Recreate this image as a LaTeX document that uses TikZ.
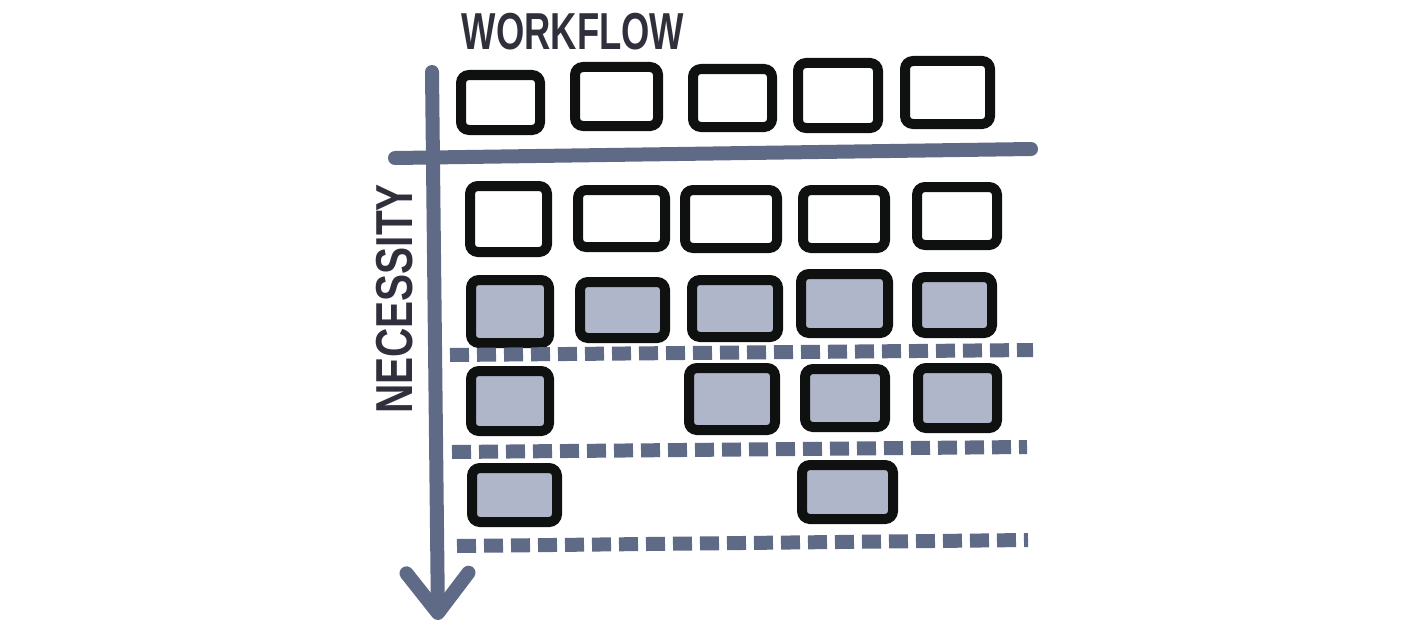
\documentclass[tikz,border=0pt]{standalone}
\usepackage{fontspec}
\setmainfont{Liberation Sans}
\usepackage{tikz}
\usetikzlibrary{arrows.meta, positioning}
\definecolor{axisblue}{HTML}{5F6A86}
\definecolor{cardfill}{HTML}{B0B6C9}
\definecolor{inkblack}{HTML}{0F1110}
\definecolor{inkgray}{HTML}{30303C}
\tikzstyle{card} = [draw=inkblack, line width=10pt, rounded corners=8pt, rectangle, inner sep=0pt, fill=white]
\tikzstyle{donecard} = [card, fill=cardfill]
\tikzstyle{axis} = [draw=axisblue, line width=14pt, line cap=round]
\tikzstyle{cutline} = [draw=axisblue, line width=14pt, dash pattern=on 19pt off 8pt]
\tikzstyle{label} = [text=inkgray, font=\bfseries\fontsize{52}{52}\selectfont, inner sep=0pt]

\begin{document}
\begin{tikzpicture}[x=1pt, y=-1pt, >=latex]
    \useasboundingbox (0,0) rectangle (1413,642);
    % axis labels
    \node [label] (workflow) at (573,31.5) {\scalebox{0.70}[1]{WORKFLOW}};
    \node [label, rotate=90] (necessity) at (395,299) {\scalebox{0.78}[1]{NECESSITY}};
    % axes
    \coordinate (ytop) at (432,72);
    \coordinate (ybot) at (438,620);
    \coordinate (xleft) at (395,158);
    \coordinate (xright) at (1031,149);
    \draw [axis] (xleft) -- (xright);
    \draw [axis, -{Straight Barb[length=40pt, width=62pt, round]}] (ytop) -- (ybot);
    % workflow steps
    \node [card, minimum width=79pt, minimum height=55pt] (step1) at (500.5,102.5) {};
    \node [card, minimum width=83pt, minimum height=59pt] (step2) at (616.5,96.5) {};
    \node [card, minimum width=79pt, minimum height=58pt] (step3) at (732.5,98) {};
    \node [card, minimum width=80pt, minimum height=65pt] (step4) at (838,95.5) {};
    \node [card, minimum width=85pt, minimum height=63pt] (step5) at (947.5,92.5) {};
    % first row of stories
    \node [card, minimum width=77pt, minimum height=66pt] (s11) at (508.5,219) {};
    \node [card, minimum width=87pt, minimum height=57pt] (s12) at (621.5,218.5) {};
    \node [card, minimum width=92pt, minimum height=58pt] (s13) at (731,219) {};
    \node [card, minimum width=82pt, minimum height=58pt] (s14) at (844,219) {};
    \node [card, minimum width=80pt, minimum height=58pt] (s15) at (957,216) {};
    % second row
    \node [donecard, minimum width=78pt, minimum height=63pt] (s21) at (510,311.5) {};
    \node [donecard, minimum width=85pt, minimum height=56pt] (s22) at (622.5,310) {};
    \node [donecard, minimum width=86pt, minimum height=57pt] (s23) at (735,308.5) {};
    \node [donecard, minimum width=87pt, minimum height=59pt] (s24) at (844.5,303.5) {};
    \node [donecard, minimum width=75pt, minimum height=56pt] (s25) at (954.5,305) {};
    % third row
    \node [donecard, minimum width=78pt, minimum height=60pt] (s31) at (510,401) {};
    \node [donecard, minimum width=86pt, minimum height=62pt] (s33) at (732,399) {};
    \node [donecard, minimum width=80pt, minimum height=58pt] (s34) at (845,398) {};
    \node [donecard, minimum width=79pt, minimum height=60pt] (s35) at (957.5,398) {};
    % fourth row
    \node [donecard, minimum width=85pt, minimum height=54pt] (s41) at (514.5,495) {};
    \node [donecard, minimum width=91pt, minimum height=54pt] (s44) at (847.5,492) {};
    % release cuts
    \coordinate (cut1l) at (450,355);
    \coordinate (cut1r) at (1033,350);
    \coordinate (cut2l) at (452,452);
    \coordinate (cut2r) at (1027,447);
    \coordinate (cut3l) at (457,546);
    \coordinate (cut3r) at (1028,540);
    \draw [cutline] (cut1l) -- (cut1r);
    \draw [cutline] (cut2l) -- (cut2r);
    \draw [cutline] (cut3l) -- (cut3r);
\end{tikzpicture}
\end{document}
